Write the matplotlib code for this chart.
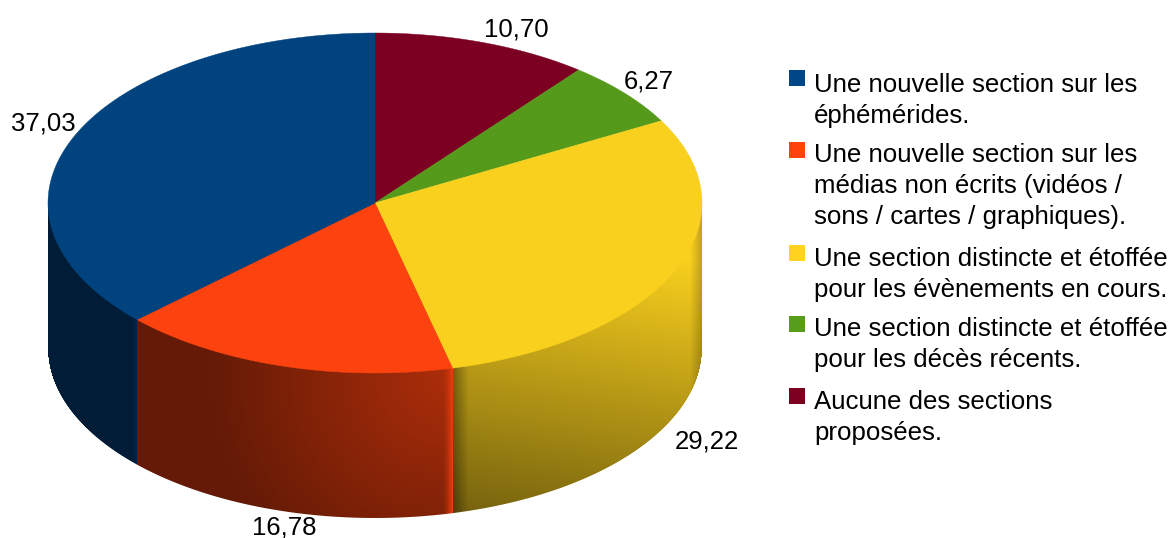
import numpy as np
import matplotlib
matplotlib.use('Agg')
import matplotlib.pyplot as plt
from matplotlib.colors import to_rgb
from matplotlib.patches import Polygon, Rectangle

# valeurs, sens horaire depuis le haut
valeurs = [10.70, 6.27, 29.22, 16.78, 37.03]
etiquettes = ['10,70', '6,27', '29,22', '16,78', '37,03']
couleurs_dessus = ['#7c0022', '#569a1b', '#f9d01e', '#fc430f', '#00437f']
couleurs_legende = ['#004586', '#ff420e', '#ffd320', '#579d1c', '#7e0021']
legende = [
    'Une nouvelle section sur les\néphémérides.',
    'Une nouvelle section sur les\nmédias non écrits (vidéos /\nsons / cartes / graphiques).',
    'Une section distincte et étoffée\npour les évènements en cours.',
    'Une section distincte et étoffée\npour les décès récents.',
    'Aucune des sections\nproposées.',
]

CX, CY = 375, 203
RX, RY = 327, 170
DEPTH = 145


def bord(theta):
    return CX + RX * np.sin(theta), CY - RY * np.cos(theta)


def arc(a, b, n=300):
    x, y = bord(np.linspace(a, b, n))
    return np.column_stack([x, y])


# xd = cote droit du flanc, xg = cote gauche
def ombre_jaune(x, y, xd, xg):
    s = 0.72 + 0.0003 * (x - xg) - 0.0018 * (y - 375)
    s = np.clip(s, 0.45, 1.0)
    s = s * (0.62 + 0.38 * np.clip((x - xg) / 16, 0, 1))
    s = s * (1 - 0.22 * np.clip((x - 690) / 12, 0, 1))
    return s


def ombre_rouge(x, y, xd, xg):
    d = np.hypot(x - 445, y - 375)
    s = np.clip(0.68 - 0.0012 * d, 0.40, 1.0)
    return s + (0.92 - s) * np.clip((x - (xd - 10)) / 10, 0, 1) ** 1.5


def ombre_bleue(x, y, xd, xg):
    s = 0.43 + 0.0 * x
    return s + 0.15 * np.clip((x - (xd - 5)) / 5, 0, 1)


fig = plt.figure(figsize=(11.73, 5.38), dpi=100)
ax = fig.add_axes([0, 0, 1, 1])
ax.set_xlim(0, 1173)
ax.set_ylim(538, 0)
ax.axis('off')
plt.rcParams['font.family'] = ['Liberation Sans', 'DejaVu Sans']

angles = np.cumsum([0] + valeurs) / sum(valeurs) * 2 * np.pi

# flancs : seulement la moitie avant
ombres = {2: ombre_jaune, 3: ombre_rouge, 4: ombre_bleue}
for i, f in ombres.items():
    a = max(angles[i], np.pi / 2)
    b = min(angles[i + 1], 3 * np.pi / 2)
    xd, xg = bord(a)[0], bord(b)[0]
    x0, x1 = int(round(xg)), int(round(xd))
    y0, y1 = CY, CY + RY + DEPTH + 2
    xx, yy = np.meshgrid(np.arange(x0, x1) + 0.5, np.arange(y0, y1) + 0.5)
    s = f(xx, yy, xd, xg)
    # alpha calcule pour garder un bord bas lisse
    bas = CY + DEPTH + RY * np.sqrt(np.clip(1 - ((xx - CX) / RX) ** 2, 0, 1))
    alpha = np.clip(bas - yy + 0.5, 0, 1)
    base = np.array(to_rgb(couleurs_dessus[i]))
    img = np.dstack([np.clip(s[..., None] * base, 0, 1), alpha])
    ax.imshow(img, extent=(x0, x1, y1, y0), aspect='auto', zorder=2, interpolation='none')

ax.set_xlim(0, 1173)
ax.set_ylim(538, 0)

# dessus
for i, c in enumerate(couleurs_dessus):
    pts = np.vstack([[CX, CY], arc(angles[i], angles[i + 1])])
    ax.add_patch(Polygon(pts, closed=True, fc=c, ec=c, lw=0.3, zorder=4))

# etiquettes des valeurs
pos_etiquettes = [(516, 37), (649, 89), (707, 449), (284, 534), (43, 131)]
for txt, (x, y) in zip(etiquettes, pos_etiquettes):
    ax.text(x, y, txt, fontsize=18.5, ha='center', va='baseline', color='black', zorder=5)

# legende
y_carres = [78, 150, 253, 324, 396]
y_lignes = [83, 153, 257, 327, 400]
for txt, c, yc, yl in zip(legende, couleurs_legende, y_carres, y_lignes):
    ax.add_patch(Rectangle((789, yc - 8), 16, 16, fc=c, ec='none', zorder=5))
    for k, ligne in enumerate(txt.split('\n')):
        ax.text(814, yl + 31 * k + 9, ligne, fontsize=18.6, ha='left', va='baseline', color='black')

fig.savefig('out.png', dpi=100)
